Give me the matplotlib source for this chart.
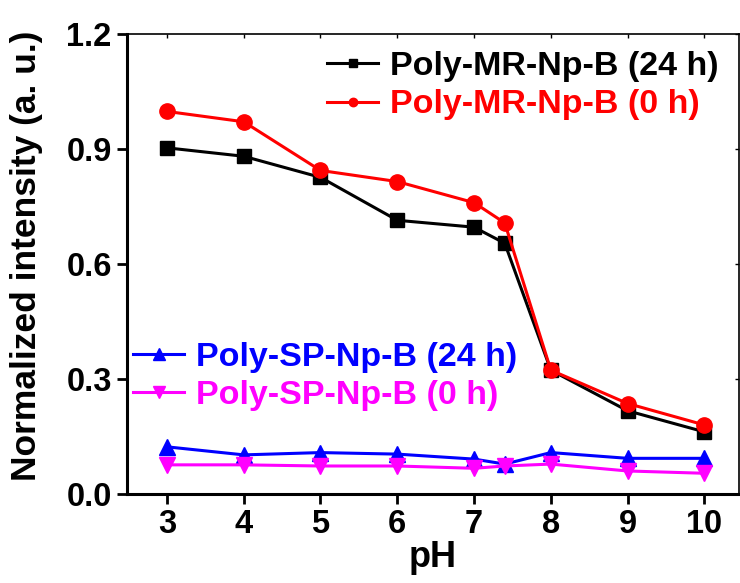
import matplotlib
matplotlib.use("Agg")
import matplotlib.pyplot as plt

plt.rcParams['font.family'] = ['Liberation Sans', 'DejaVu Sans']
plt.rcParams['font.weight'] = 'bold'

ph = [3, 4, 5, 6, 7, 7.4, 8, 9, 10]
mr_24h = [0.903, 0.881, 0.826, 0.714, 0.696, 0.654, 0.323, 0.217, 0.162]
mr_0h = [0.998, 0.971, 0.844, 0.815, 0.760, 0.707, 0.323, 0.236, 0.180]
sp_24h = [0.123, 0.102, 0.108, 0.104, 0.091, 0.078, 0.108, 0.093, 0.093]
sp_0h = [0.076, 0.076, 0.073, 0.073, 0.067, 0.073, 0.078, 0.060, 0.054]

x_ticks = [3, 4, 5, 6, 7, 8, 9, 10]
y_ticks = [0.0, 0.3, 0.6, 0.9, 1.2]

fig = plt.figure(figsize=(7.4, 5.83), dpi=100)
ax = fig.add_axes([0.1716, 0.1527, 0.8270, 0.7890])

lw = 2.2
l1, = ax.plot(ph, mr_24h, color="black", marker="s", ms=10, lw=lw,
              label="Poly-MR-Np-B (24 h)")
l2, = ax.plot(ph, mr_0h, color="red", marker="o", ms=11, lw=lw,
              label="Poly-MR-Np-B (0 h)")
l3, = ax.plot(ph, sp_24h, color="blue", marker="^", ms=11, lw=lw,
              label="Poly-SP-Np-B (24 h)")
l4, = ax.plot(ph, sp_0h, color="magenta", marker="v", ms=11, lw=lw,
              label="Poly-SP-Np-B (0 h)")

ax.set_xlim(2.48, 10.45)
ax.set_ylim(0, 1.2)
ax.set_xticks(x_ticks)
ax.set_yticks(y_ticks)
ax.set_yticklabels([f"{v:.1f}" for v in y_ticks])
ax.tick_params(axis="both", which="major", direction="out", length=7,
               width=2, labelsize=23.5, pad=4)
for lab in ax.get_xticklabels() + ax.get_yticklabels():
    lab.set_fontweight("bold")

for side in ["left", "bottom"]:
    ax.spines[side].set_linewidth(2.2)
for side in ["top", "right"]:
    ax.spines[side].set_linewidth(1.2)

# mirror ticks on top/right, short and inward
top = ax.secondary_xaxis("top")
top.set_xticks(x_ticks)
top.tick_params(direction="in", length=3, width=1, labeltop=False)
top.spines["top"].set_visible(False)
right = ax.secondary_yaxis("right")
right.set_yticks(y_ticks)
right.tick_params(direction="in", length=3, width=1, labelright=False)
right.spines["right"].set_visible(False)

ax.set_xlabel("pH", fontsize=26, fontweight="bold", labelpad=0)
ax.set_ylabel("Normalized intensity (a. u.)", fontsize=25.5,
              fontweight="bold")
ax.yaxis.set_label_coords(-0.137, 0.517)

leg1 = ax.legend(handles=[l1, l2], loc="upper right", frameon=False,
                 fontsize=24.5, markerscale=0.55, handlelength=1.5,
                 handletextpad=0.35, labelspacing=0.22,
                 bbox_to_anchor=(0.995, 1.0), borderaxespad=0.1)
for t, c in zip(leg1.get_texts(), ["black", "red"]):
    t.set_color(c)
ax.add_artist(leg1)

leg2 = ax.legend(handles=[l3, l4], loc="lower left", frameon=False,
                 fontsize=24.5, markerscale=0.8, handlelength=1.5,
                 handletextpad=0.35, labelspacing=0.22,
                 bbox_to_anchor=(-0.012, 0.15), borderaxespad=0.0)
for t, c in zip(leg2.get_texts(), ["blue", "magenta"]):
    t.set_color(c)

fig.savefig("out.png", dpi=100)
